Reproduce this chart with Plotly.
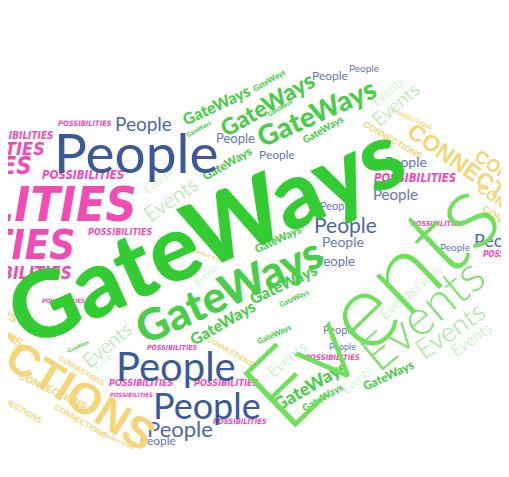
import plotly.graph_objects as go

# canvas units: 0..509 across, 0..477 down (top = 0)
W, H = 509, 477

# ---- word cloud data (centre x, centre y, font size, angle) -----------------
gateways_x = [203, 228, 215, 267, 318, 197, 270, 281, 325, 226, 279, 221, 284, 295, 275, 312, 325, 392, 73]
gateways_y = [231, 291, 100, 99, 108, 125, 75, 103, 125, 161, 239, 325, 285, 300, 337, 390, 403, 380, 350]
gateways_size = [93, 44, 16, 23, 28, 6, 8, 6, 10, 12, 11, 16, 16, 7, 8, 18, 10, 12, 5]
gateways_angle = [-24, -24, -25, -30, -24, -30, -30, -30, -30, -30, -25, -30, -25, -25, -25, -30, -30, -25, -25]

events_x = [372, 427, 456, 478, 392, 400, 155, 167, 205, 288, 359, 402, 434, 361, 102, 99]
events_y = [302, 316, 333, 342, 86, 99, 179, 197, 275, 363, 385, 304, 279, 302, 348, 365]
events_size = [106, 50, 27, 16, 13, 19, 11, 21, 10, 16, 12, 15, 11, 9, 20, 8]
events_angle = [-44, -40, -35, -35, -40, -40, -40, -35, -40, -40, -40, -40, -40, -40, -40, -40]

people_x = [133, 173, 205, 332, 368, 235, 140, 278, 411, 400, 339, 348, 346, 462, 509, 338, 342, 345, 178, 155]
people_y = [149, 370, 411, 70, 62, 135, 120, 152, 159, 192, 204, 224, 242, 247, 240, 262, 333, 350, 435, 448]
people_size = [55, 40, 36, 12, 10, 13, 19, 12, 14, 15, 11, 21, 14, 10, 18, 13, 11, 9, 22, 12]

possib_x = [-44, -78, -64, -28, 79, 10, 77, 116, 3, 57, 420, 443, 520, 335, 170, 138, 226, 128, 240]
possib_y = [203, 245, 163, 145, 119, 132, 173, 232, 274, 303, 176, 223, 255, 362, 352, 388, 388, 400, 428]
possib_size = [48, 40, 24, 18, 7.5, 10, 11.5, 9, 17, 6, 11.5, 7.2, 8, 7.7, 7, 9, 9, 6, 7.5]

connect_x = [6, 487, 417, 397, 540, 530, 522, 208, 46, 76, 8, 75, 230, 114, -30, -25]
connect_y = [358, 175, 115, 137, 190, 215, 228, 257, 396, 375, 412, 428, 355, 448, 300, 325]
connect_size = [44, 23, 6, 9, 18, 14, 10, 5, 10, 7, 8, 8, 7, 5, 12, 12]
connect_angle = [32, 35, 25, 30, 35, 35, 35, 20, 25, 30, 30, 30, 30, 25, 30, 30]


def gateways_font(s):
    color = "#33cc33" if s >= 60 else "#4acd4a"
    return dict(family="Lato, Open Sans, sans-serif", weight=900, color=color)


def events_font(s):
    if s >= 80:
        color = "#70e05c"
    elif s >= 40:
        color = "#84e274"
    elif s >= 18:
        color = "#9de891"
    else:
        color = "#b2ecaa"
    return dict(family="Lato, sans-serif", weight=300, color=color)


def people_font(s):
    if s >= 30:
        color = "#3b5998"
    elif s >= 17:
        color = "#4d66a8"
    else:
        color = "#6477bb"
    return dict(family="Lato, sans-serif", weight=400, color=color)


def possib_font(s):
    return dict(family="Liberation Sans Narrow, DejaVu Sans Condensed, sans-serif",
                weight="bold", style="italic", color="#f04cb4")


def connect_font(s):
    return dict(family="Liberation Sans, Arial, sans-serif", weight="bold", color="#f5d57a")


groups = [
    ("GateWays", gateways_x, gateways_y, gateways_size, gateways_angle, gateways_font),
    ("Events", events_x, events_y, events_size, events_angle, events_font),
    ("People", people_x, people_y, people_size, [0] * len(people_x), people_font),
    ("POSSIBILITIES", possib_x, possib_y, possib_size, [0] * len(possib_x), possib_font),
    ("CONNECTIONS", connect_x, connect_y, connect_size, connect_angle, connect_font),
]

# draw the smaller words first so the large ones sit on top
items = []
for word, xs, ys, sizes, angles, font_fn in groups:
    for x, y, s, a in zip(xs, ys, sizes, angles):
        items.append((s, word, x, y, a, font_fn))
items.sort(key=lambda t: t[0])

annotations = []
for s, word, x, y, a, font_fn in items:
    f = font_fn(s)
    f["size"] = s
    annotations.append(dict(
        text=word, x=x / W, y=1 - y / H, xref="paper", yref="paper",
        xanchor="center", yanchor="middle", showarrow=False,
        textangle=a, font=f,
    ))

fig = go.Figure()
fig.update_layout(
    annotations=annotations,
    margin=dict(l=0, r=0, t=0, b=0),
    paper_bgcolor="white",
    plot_bgcolor="white",
    xaxis=dict(visible=False, range=[0, W]),
    yaxis=dict(visible=False, range=[H, 0]),
    showlegend=False,
)
fig.write_html("out.html")
